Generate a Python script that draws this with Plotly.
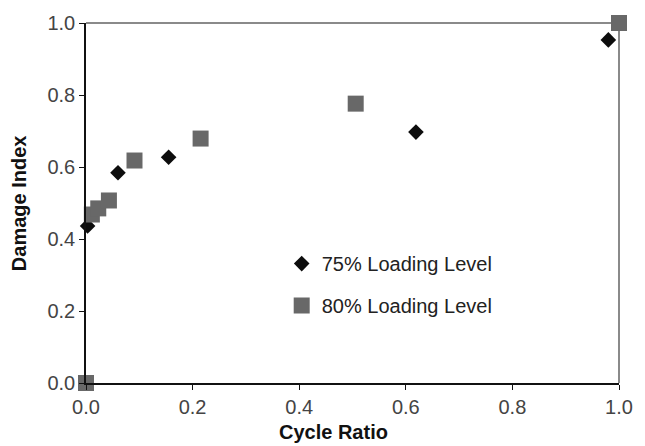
import plotly.graph_objects as go

# Data
x75 = [0.003, 0.060, 0.155, 0.619, 0.980]
y75 = [0.436, 0.584, 0.627, 0.697, 0.953]

x80 = [0.0, 0.011, 0.023, 0.043, 0.091, 0.215, 0.506, 1.0]
y80 = [0.0, 0.468, 0.485, 0.507, 0.618, 0.679, 0.776, 1.0]

tick_vals = [0.0, 0.2, 0.4, 0.6, 0.8, 1.0]
tick_text = ["0.0", "0.2", "0.4", "0.6", "0.8", "1.0"]

W, H = 645, 446
L, R, T, B = 86, 17, 15, 63

fig = go.Figure()
fig.add_trace(go.Scatter(
    x=x75, y=y75, mode="markers", name="75% Loading Level",
    legendgroup="a",
    marker=dict(symbol="diamond", size=12, color="#0d0d0d", line=dict(width=0)),
    cliponaxis=False,
))
fig.add_trace(go.Scatter(
    x=x80, y=y80, mode="markers", name="80% Loading Level",
    legendgroup="b",
    marker=dict(symbol="square", size=16, color="#686868", line=dict(width=0)),
    cliponaxis=False,
))

font_family = "Liberation Sans, Arial, sans-serif"

fig.update_layout(
    width=W, height=H,
    margin=dict(l=L, r=R, t=T, b=B, pad=0),
    paper_bgcolor="white", plot_bgcolor="white",
    font=dict(family=font_family, size=20, color="#333333"),
    showlegend=True,
    legend=dict(
        x=(285 - L) / (W - L - R), y=(H - B - 241) / (H - T - B),
        xanchor="left", yanchor="top",
        bgcolor="rgba(0,0,0,0)", borderwidth=0,
        font=dict(size=20, color="#222222", family=font_family),
        traceorder="grouped", tracegroupgap=13, itemsizing="trace",
    ),
    xaxis=dict(
        range=[0, 1], tickvals=tick_vals, ticktext=tick_text,
        showgrid=False, zeroline=False,
        showline=True, linecolor="#111111", linewidth=1.5,
        ticks="outside", ticklen=5, tickwidth=1.2, tickcolor="#111111",
        tickfont=dict(size=20, color="#444444"),
        fixedrange=True,
    ),
    yaxis=dict(
        range=[0, 1], tickvals=tick_vals, ticktext=tick_text,
        showgrid=False, zeroline=False,
        showline=True, linecolor="#111111", linewidth=1.5,
        ticks="outside", ticklen=5, tickwidth=1.2, tickcolor="#111111",
        tickfont=dict(size=20, color="#444444"),
        fixedrange=True,
    ),
    shapes=[
        dict(type="line", xref="paper", yref="paper", x0=0, x1=1, y0=1, y1=1,
             line=dict(color="#8a8a8a", width=2), layer="below"),
        dict(type="line", xref="paper", yref="paper", x0=1, x1=1, y0=0, y1=1,
             line=dict(color="#8a8a8a", width=2), layer="below"),
    ],
    annotations=[
        dict(text="<b>Cycle Ratio</b>", xref="paper", yref="paper",
             x=(338 - L) / (W - L - R), y=-(433 - (H - B)) / (H - T - B),
             xanchor="center", yanchor="middle", showarrow=False,
             font=dict(size=20, color="#111111", family=font_family)),
        dict(text="<b>Damage Index</b>", xref="paper", yref="paper",
             x=-(L - 18) / (W - L - R), y=0.5, textangle=-90,
             xanchor="center", yanchor="middle", showarrow=False,
             font=dict(size=20, color="#111111", family=font_family)),
    ],
)

fig.write_html("out.html")
